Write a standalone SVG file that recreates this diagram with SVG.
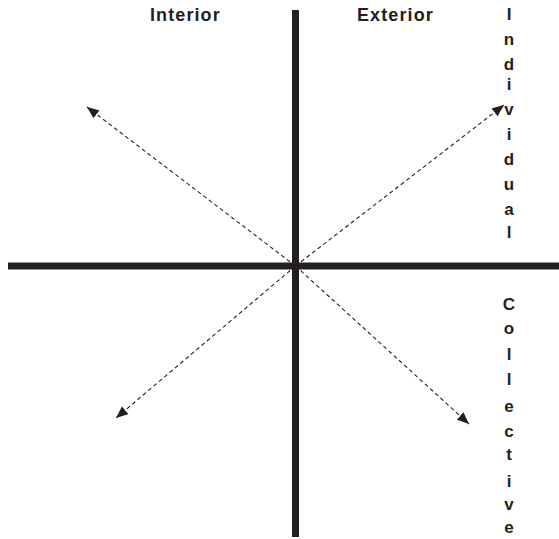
<svg xmlns="http://www.w3.org/2000/svg" width="559" height="539" viewBox="0 0 559 539">
<style>
.axis{stroke:#231f20;stroke-width:7;fill:none}
.diag{stroke:#231f20;stroke-width:1.1;stroke-dasharray:4 3;fill:none}
.lbl{font-family:"Liberation Sans",Arial,sans-serif;font-weight:bold;font-size:18px;fill:#231f20;letter-spacing:1.1px}
.v{font-family:"Liberation Sans",Arial,sans-serif;font-weight:bold;font-size:17px;fill:#231f20;text-anchor:middle}
</style>
<defs>
<marker id="ah" viewBox="0 0 12 10" refX="12" refY="5" markerWidth="12" markerHeight="10" markerUnits="userSpaceOnUse" orient="auto">
<path d="M0,0 L12,5 L0,10 Z" fill="#231f20"/>
</marker>
</defs>
<g id="connectors">
<line class="axis" x1="295.5" y1="10" x2="295.5" y2="537"/>
<line class="axis" x1="8" y1="266" x2="559" y2="266"/>
<line class="diag" x1="295.5" y1="266" x2="87" y2="107" marker-end="url(#ah)"/>
<line class="diag" x1="295.5" y1="266" x2="504" y2="105" marker-end="url(#ah)"/>
<line class="diag" x1="295.5" y1="266" x2="116" y2="418" marker-end="url(#ah)"/>
<line class="diag" x1="295.5" y1="266" x2="469" y2="424" marker-end="url(#ah)"/>
</g>
<g id="interior"><text class="lbl" x="150" y="21">Interior</text></g>
<g id="exterior"><text class="lbl" x="357" y="21">Exterior</text></g>
<g id="individual">
<text class="v" x="509" y="20">I</text>
<text class="v" x="509" y="45">n</text>
<text class="v" x="509" y="70">d</text>
<text class="v" x="509" y="90">i</text>
<text class="v" x="509" y="115">v</text>
<text class="v" x="509" y="140">i</text>
<text class="v" x="509" y="165">d</text>
<text class="v" x="509" y="190">u</text>
<text class="v" x="509" y="215">a</text>
<text class="v" x="509" y="238">l</text>
</g>
<g id="collective">
<text class="v" x="509" y="310">C</text>
<text class="v" x="509" y="334">o</text>
<text class="v" x="509" y="360">l</text>
<text class="v" x="509" y="385">l</text>
<text class="v" x="509" y="412">e</text>
<text class="v" x="509" y="437">c</text>
<text class="v" x="509" y="460">t</text>
<text class="v" x="509" y="487">i</text>
<text class="v" x="509" y="510">v</text>
<text class="v" x="509" y="533">e</text>
</g>
</svg>
